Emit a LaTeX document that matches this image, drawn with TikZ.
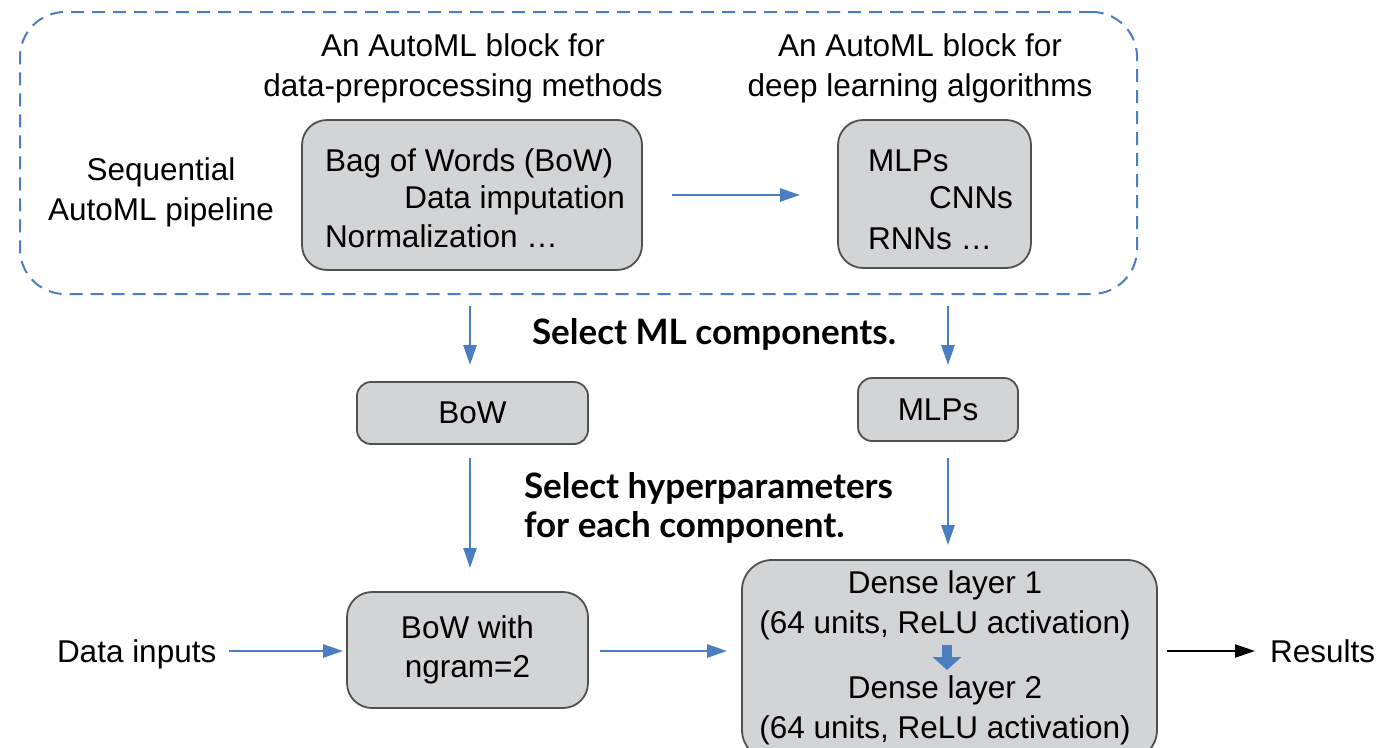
\documentclass[tikz,border=0pt]{standalone}
\usepackage{fontspec}
\setmainfont{Liberation Sans}
\newfontfamily\headfont{Lato}
\usetikzlibrary{arrows.meta,calc}
\definecolor{flowblue}{HTML}{4A7EC2}
\definecolor{boxgray}{HTML}{D3D4D6}
\definecolor{boxline}{HTML}{505050}
\begin{document}
\begin{tikzpicture}[x=1pt,y=-1pt,
  every node/.style={font=\fontsize{31.5}{39.5}\selectfont, inner sep=0pt, outer sep=0pt},
  graybox/.style={draw=boxline, fill=boxgray, line width=1.8pt, rounded corners=#1},
  graybox/.default=25pt,
  stepnote/.style={font=\headfont\bfseries\fontsize{35}{39}\selectfont, align=left},
  flow/.style={draw=flowblue, line width=2.6pt, -{Triangle[length=20pt,width=13pt]}},
  outflow/.style={draw=black, line width=2.2pt, -{Triangle[length=20pt,width=13pt]}},
  blockflow/.style={draw=flowblue, line width=9.5pt, -{Triangle[length=13pt,width=28pt]}}
]
\useasboundingbox (0,0) rectangle (1380,747);

% sequential pipeline frame
\node[draw=flowblue, line width=2pt, dash pattern=on 13pt off 8pt,
      rounded corners=45pt, minimum width=1117pt, minimum height=282pt] (pipe) at (578.5,153) {};

% multi-line labels are placed by the baseline of their last line
\node[align=center, anchor=base] (preptitle) at (463,96) {An AutoML block for\\data-preprocessing methods};
\node[align=center, anchor=base] (dltitle) at (920,96) {An AutoML block for\\deep learning algorithms};
\node[align=center, anchor=base] (seqlabel) at (161,220) {Sequential\\AutoML pipeline};

% search-space blocks
\node[graybox, minimum width=340pt, minimum height=150pt] (prep) at (472,195) {};
\node[anchor=base west] (prepa) at (325,171) {Bag of Words (BoW)};
\node[anchor=base east] (prepb) at (625,208) {Data imputation};
\node[anchor=base west] (prepc) at (325,247) {Normalization \dots};

\node[graybox, minimum width=193pt, minimum height=148pt] (dl) at (934.5,194) {};
\node[anchor=base west] (dla) at (868,171) {MLPs};
\node[anchor=base east] (dlb) at (1013,208) {CNNs};
\node[anchor=base west] (dlc) at (868,249) {RNNs \dots};

\draw[flow, shorten <=30pt, shorten >=38pt] (prep.east) -- (dl.west |- prep.east);

% selected components
\node[graybox=14pt, minimum width=231pt, minimum height=62pt] (bow) at (472.5,413) {BoW};
\node[graybox=14pt, minimum width=160pt, minimum height=63pt] (mlps) at (938,409.5) {MLPs};

\coordinate (bowin) at (470,294);
\coordinate (mlpin) at (948,294);
\draw[flow, shorten <=12pt, shorten >=17pt] (bowin) -- (bowin |- bow.north);
\draw[flow, shorten <=12pt, shorten >=13pt] (mlpin) -- (mlpin |- mlps.north);

\node[stepnote, anchor=base] (selml) at (714,344) {Select ML components.};

% tuned components
\node[graybox, minimum width=241pt, minimum height=116pt, align=center] (ngram) at (467.5,650) {BoW with\\ngram=2};
\node[graybox=30pt, minimum width=415pt, minimum height=200pt] (dense) at (949.5,660) {};
\node[align=center, anchor=base] (dense1) at (945,633) {Dense layer 1\\(64 units, ReLU activation)};
\node[align=center, anchor=base] (dense2) at (945,738) {Dense layer 2\\(64 units, ReLU activation)};
\coordinate (blocktop) at (947,645);
\coordinate (blockbot) at (947,670);
\draw[blockflow] (blocktop) -- (blockbot);

\coordinate (bowout) at (470,444);
\coordinate (mlpout) at (948,441);
\draw[flow, shorten <=14pt, shorten >=24pt] (bowout) -- (bowout |- ngram.north);
\draw[flow, shorten <=17pt, shorten >=15pt] (mlpout) -- (mlpout |- dense.north);

\node[stepnote, anchor=base west] (selhp) at (524,537) {Select hyperparameters\\for each component.};

% data flow through the pipeline
\node[anchor=base west] (inputs) at (57,662) {Data inputs};
\node[anchor=base west] (results) at (1270,662) {Results};
\coordinate (flowy) at (0,651);
\draw[flow, shorten <=13pt, shorten >=4pt] (inputs.east |- flowy) -- (ngram.west |- flowy);
\draw[flow, shorten <=12pt, shorten >=15pt] (ngram.east |- flowy) -- (dense.west |- flowy);
\draw[outflow, shorten <=10pt, shorten >=15pt] (dense.east |- flowy) -- (results.west |- flowy);
\end{tikzpicture}
\end{document}
